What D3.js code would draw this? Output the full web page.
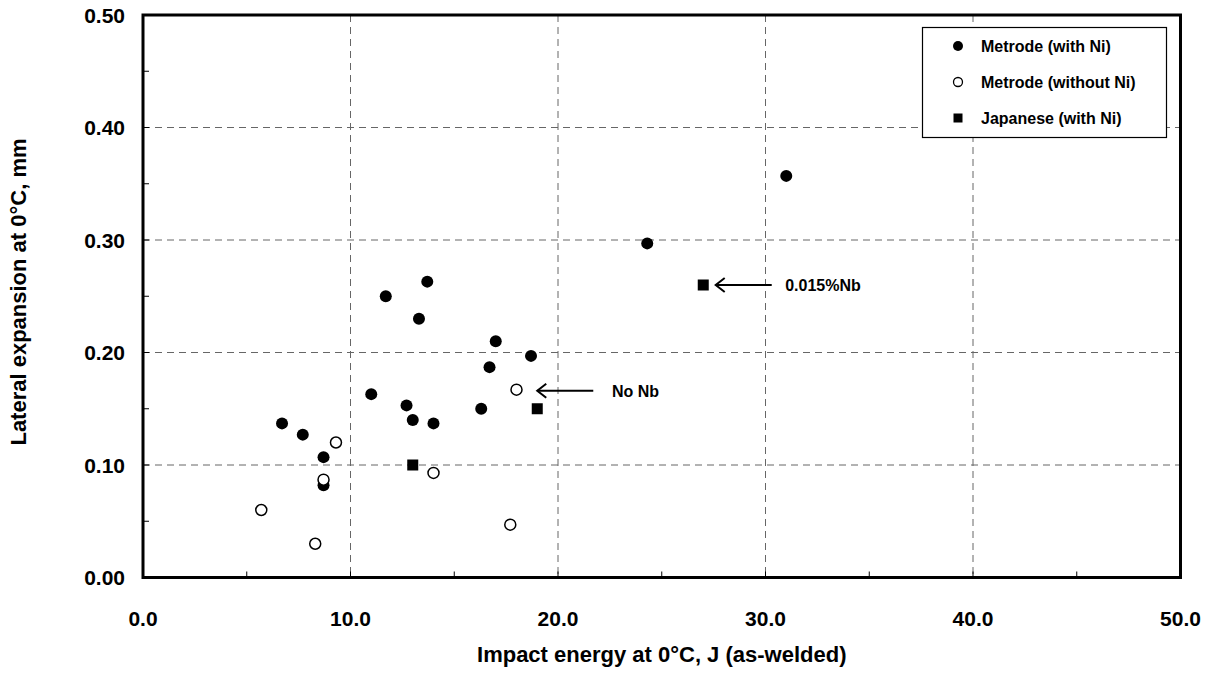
<!DOCTYPE html>
<html>
<head>
<meta charset="utf-8">
<script src="https://cdn.jsdelivr.net/npm/d3@7"></script>
<style>
  body { margin: 0; background: #fff; }
  text { font-family: "Liberation Sans", Arial, sans-serif; font-weight: bold; fill: #000; }
</style>
</head>
<body>
<svg id="chart" width="1211" height="674"></svg>
<script>
// Metrode (with Ni) - filled circles
var withNiX = [6.7, 7.7, 8.7, 8.7, 11.0, 11.7, 12.7, 13.0, 13.3, 13.7, 14.0, 16.3, 16.7, 17.0, 18.7, 24.3, 31.0];
var withNiY = [0.137, 0.127, 0.107, 0.082, 0.163, 0.250, 0.153, 0.140, 0.230, 0.263, 0.137, 0.150, 0.187, 0.210, 0.197, 0.297, 0.357];

// Metrode (without Ni) - open circles
var withoutNiX = [5.7, 8.3, 8.7, 9.3, 14.0, 17.7, 18.0];
var withoutNiY = [0.060, 0.030, 0.087, 0.120, 0.093, 0.047, 0.167];

// Japanese (with Ni) - squares
var japX = [13.0, 19.0, 27.0];
var japY = [0.100, 0.150, 0.260];

// annotations: arrow start/end (data units) and label
var annoText = ["0.015%Nb", "No Nb"];
var annoFromX = [30.3, 21.7];
var annoToX = [27.6, 19.0];
var annoY = [0.26, 0.166];
var annoTextX = [30.95, 22.6];

var xTicks = [0, 10, 20, 30, 40, 50];
var yTicks = [0, 0.1, 0.2, 0.3, 0.4, 0.5];
var xMinor = [5, 15, 25, 35, 45];
var yMinor = [0.05, 0.15, 0.25, 0.35, 0.45];

var legendLabels = ["Metrode (with Ni)", "Metrode (without Ni)", "Japanese (with Ni)"];

var svg = d3.select("#chart");
var plot = {l: 143, r: 1180.5, t: 15, b: 577.5};

var x = d3.scaleLinear().domain([0, 50]).range([plot.l, plot.r]);
var y = d3.scaleLinear().domain([0, 0.5]).range([plot.b, plot.t]);

// gridlines
var grid = svg.append("g").attr("stroke", "#666").attr("stroke-width", 1).attr("stroke-dasharray", "7,5");
grid.selectAll("line.vx")
	.data(xTicks.slice(1, -1))
	.enter().append("line")
	.attr("x1", d => x(d)).attr("x2", d => x(d))
	.attr("y1", plot.t).attr("y2", plot.b);
grid.selectAll("line.hy")
	.data(yTicks.slice(1, -1))
	.enter().append("line")
	.attr("x1", plot.l).attr("x2", plot.r)
	.attr("y1", d => y(d)).attr("y2", d => y(d));

// minor / major ticks (inside)
var ticks = svg.append("g").attr("stroke", "#000").attr("stroke-width", 1);
ticks.selectAll("line.xt")
	.data(xMinor.concat(xTicks))
	.enter().append("line")
	.attr("x1", d => x(d)).attr("x2", d => x(d))
	.attr("y1", plot.b).attr("y2", plot.b - 6);
ticks.selectAll("line.yt")
	.data(yMinor.concat(yTicks))
	.enter().append("line")
	.attr("x1", plot.l).attr("x2", plot.l + 6)
	.attr("y1", d => y(d)).attr("y2", d => y(d));

// tick labels
svg.selectAll("text.xl")
	.data(xTicks)
	.enter().append("text")
	.attr("x", d => x(d))
	.attr("y", 626)
	.attr("text-anchor", "middle")
	.style("font-size", "21px")
	.text(d => d.toFixed(1));

svg.selectAll("text.yl")
	.data(yTicks)
	.enter().append("text")
	.attr("x", 125)
	.attr("y", d => y(d) + 7.5)
	.attr("text-anchor", "end")
	.style("font-size", "21px")
	.text(d => d.toFixed(2));

// axis titles
svg.append("text")
	.attr("x", (plot.l + plot.r) / 2)
	.attr("y", 662)
	.attr("text-anchor", "middle")
	.style("font-size", "22px")
	.text("Impact energy at 0°C, J (as-welded)");

svg.append("text")
	.attr("text-anchor", "middle")
	.style("font-size", "22px")
	.attr("transform", "translate(26," + 292 + ")rotate(-90)")
	.text("Lateral expansion at 0°C, mm");

// legend box (white, over gridlines)
var lg = svg.append("g");
lg.append("rect")
	.attr("x", 922.5).attr("y", 27.5)
	.attr("width", 244).attr("height", 110)
	.attr("fill", "#fff").attr("stroke", "#000").attr("stroke-width", 1.2);
var rowY = [46, 82, 118];
lg.append("circle").attr("cx", 958).attr("cy", rowY[0]).attr("r", 5).attr("fill", "#000");
lg.append("circle").attr("cx", 958).attr("cy", rowY[1]).attr("r", 4.5).attr("fill", "#fff").attr("stroke", "#000").attr("stroke-width", 1.3);
lg.append("rect").attr("x", 953.5).attr("y", rowY[2] - 4.5).attr("width", 9).attr("height", 9).attr("fill", "#000");
lg.selectAll("text.lgt")
	.data(legendLabels)
	.enter().append("text")
	.attr("x", 981)
	.attr("y", (d, i) => rowY[i] + 6)
	.style("font-size", "16px")
	.text(d => d);

// data points
var withNi = withNiX.map((v, i) => ({x: v, y: withNiY[i]}));
var withoutNi = withoutNiX.map((v, i) => ({x: v, y: withoutNiY[i]}));
var jap = japX.map((v, i) => ({x: v, y: japY[i]}));

svg.selectAll("circle.filled")
	.data(withNi)
	.enter().append("circle")
	.attr("cx", d => x(d.x))
	.attr("cy", d => y(d.y))
	.attr("r", 6)
	.attr("fill", "#000");

svg.selectAll("circle.open")
	.data(withoutNi)
	.enter().append("circle")
	.attr("cx", d => x(d.x))
	.attr("cy", d => y(d.y))
	.attr("r", 5.5)
	.attr("fill", "#fff")
	.attr("stroke", "#000")
	.attr("stroke-width", 1.5);

svg.selectAll("rect.sq")
	.data(jap)
	.enter().append("rect")
	.attr("x", d => x(d.x) - 5.5)
	.attr("y", d => y(d.y) - 5.5)
	.attr("width", 11)
	.attr("height", 11)
	.attr("fill", "#000");

// annotations with arrows
var anno = annoText.map((t, i) => ({t: t, x0: annoFromX[i], x1: annoToX[i], y: annoY[i], tx: annoTextX[i]}));
var ag = svg.append("g").attr("stroke", "#000").attr("stroke-width", 2).attr("fill", "none");
anno.forEach(function(a) {
	var yy = y(a.y), xe = x(a.x1);
	ag.append("line").attr("x1", x(a.x0)).attr("x2", xe).attr("y1", yy).attr("y2", yy);
	ag.append("path").attr("d", "M" + (xe + 9) + "," + (yy - 7) + "L" + xe + "," + yy + "L" + (xe + 9) + "," + (yy + 7));
	svg.append("text")
		.attr("x", x(a.tx))
		.attr("y", yy + 6)
		.style("font-size", "16px")
		.text(a.t);
});

// plot frame
svg.append("rect")
	.attr("x", plot.l).attr("y", plot.t)
	.attr("width", plot.r - plot.l).attr("height", plot.b - plot.t)
	.attr("fill", "none").attr("stroke", "#000").attr("stroke-width", 3);
</script>
</body>
</html>
